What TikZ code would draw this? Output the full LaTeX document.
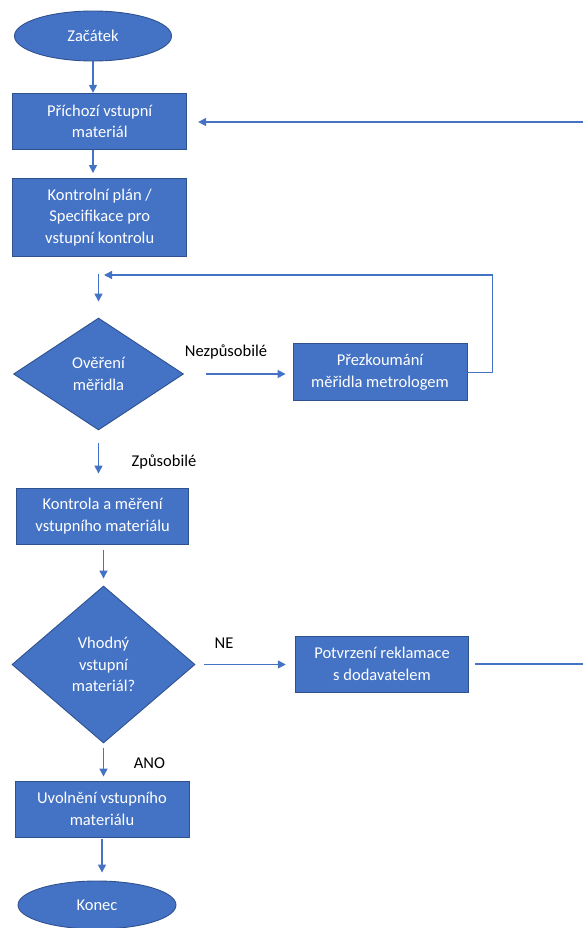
\documentclass[tikz,border=0pt]{standalone}
\usepackage{fontspec}
\setmainfont{Carlito}
\usetikzlibrary{shapes.geometric,arrows.meta}
\definecolor{ofblue}{HTML}{4472C4}
\definecolor{ofedge}{HTML}{2F528F}
\begin{document}
\begin{tikzpicture}[x=1pt,y=-1pt,
  every node/.style={font=\fontsize{16.5}{21.7}\selectfont, align=center, inner sep=0pt},
  shapebase/.style={fill=ofblue, draw=ofedge, line width=0.9pt, text=white},
  procbox/.style={shapebase, rectangle, minimum width=174pt, minimum height=56pt},
  termin/.style={shapebase, ellipse, minimum width=157pt, minimum height=50pt},
  decide/.style={shapebase, diamond},
  flow/.style={draw=ofblue, line width=1.4pt},
  arr/.style={flow, -{Triangle[length=8pt,width=8pt]}},
  lbl/.style={text=black}]
\useasboundingbox (0,0) rectangle (583,928);

% nodes of the flow
\node[termin] (start) at (93,36) {Začátek};
\node[procbox] (in) at (99.7,121.3) {Příchozí vstupní\\materiál};
\node[procbox, minimum height=78pt] (plan) at (99.7,217.5) {Kontrolní plán /\\Specifikace pro\\vstupní kontrolu};
\node[decide, minimum width=170pt, minimum height=112pt] (ver) at (98.5,374) {Ověření\\měřidla};
\node[procbox, minimum height=57pt] (rev) at (380,372.3) {Přezkoumání\\měřidla metrologem};
\node[procbox, minimum width=172pt] (meas) at (102.6,516) {Kontrola a měření\\vstupního materiálu};
\node[decide, minimum width=183pt, minimum height=157pt] (ok) at (103.5,664.5) {Vhodný\\vstupní\\materiál?};
\node[procbox, minimum width=173.5pt] (claim) at (382,664) {Potvrzení reklamace\\s dodavatelem};
\node[procbox] (rel) at (102,809) {Uvolnění vstupního\\materiálu};
\node[termin, minimum width=158pt, minimum height=48pt] (end) at (97,905) {Konec};

% branch labels
\node[lbl] (lnez) at (226,352) {Nezpůsobilé};
\node[lbl] (lzp) at (164,462) {Způsobilé};
\node[lbl] (lne) at (224,643) {NE};
\node[lbl] (lano) at (149.5,763) {ANO};

% free ends of the connectors
\coordinate (loopin) at (104,275);
\coordinate (inR) at (583,122);
\coordinate (outR) at (583,664);

% connectors
\draw[arr] (start.south) -- (start.south |- in.north);
\draw[arr, shorten >=5pt] (in.south -| start.south) -- (plan.north -| start.south);
\draw[arr, shorten <=17pt, shorten >=16pt] (plan.south -| ver.north) -- (ver.north);
\draw[arr, shorten <=13pt, shorten >=14pt] (ver.south) -- (ver.south |- meas.north);
\draw[arr, shorten <=6pt, shorten >=7pt] (meas.south -| ok.north) -- (ok.north);
\draw[arr, shorten <=5pt, shorten >=4pt] (ok.south) -- (ok.south |- rel.north);
\draw[arr, shorten <=2pt, shorten >=8pt] (rel.south) -- (rel.south |- end.north);
\draw[arr, shorten <=22pt, shorten >=7pt] (ver.east) -- (ver.east -| rev.west);
\draw[arr, shorten <=9pt, shorten >=9pt] (ok.east) -- (ok.east -| claim.west);
\draw[arr] (rev.east) -- ++(25,0) |- (loopin);
\draw[flow, shorten <=6pt] (claim.east) -- (outR);
\draw[arr, shorten >=11pt] (inR) -- (inR -| in.east);
\end{tikzpicture}
\end{document}
